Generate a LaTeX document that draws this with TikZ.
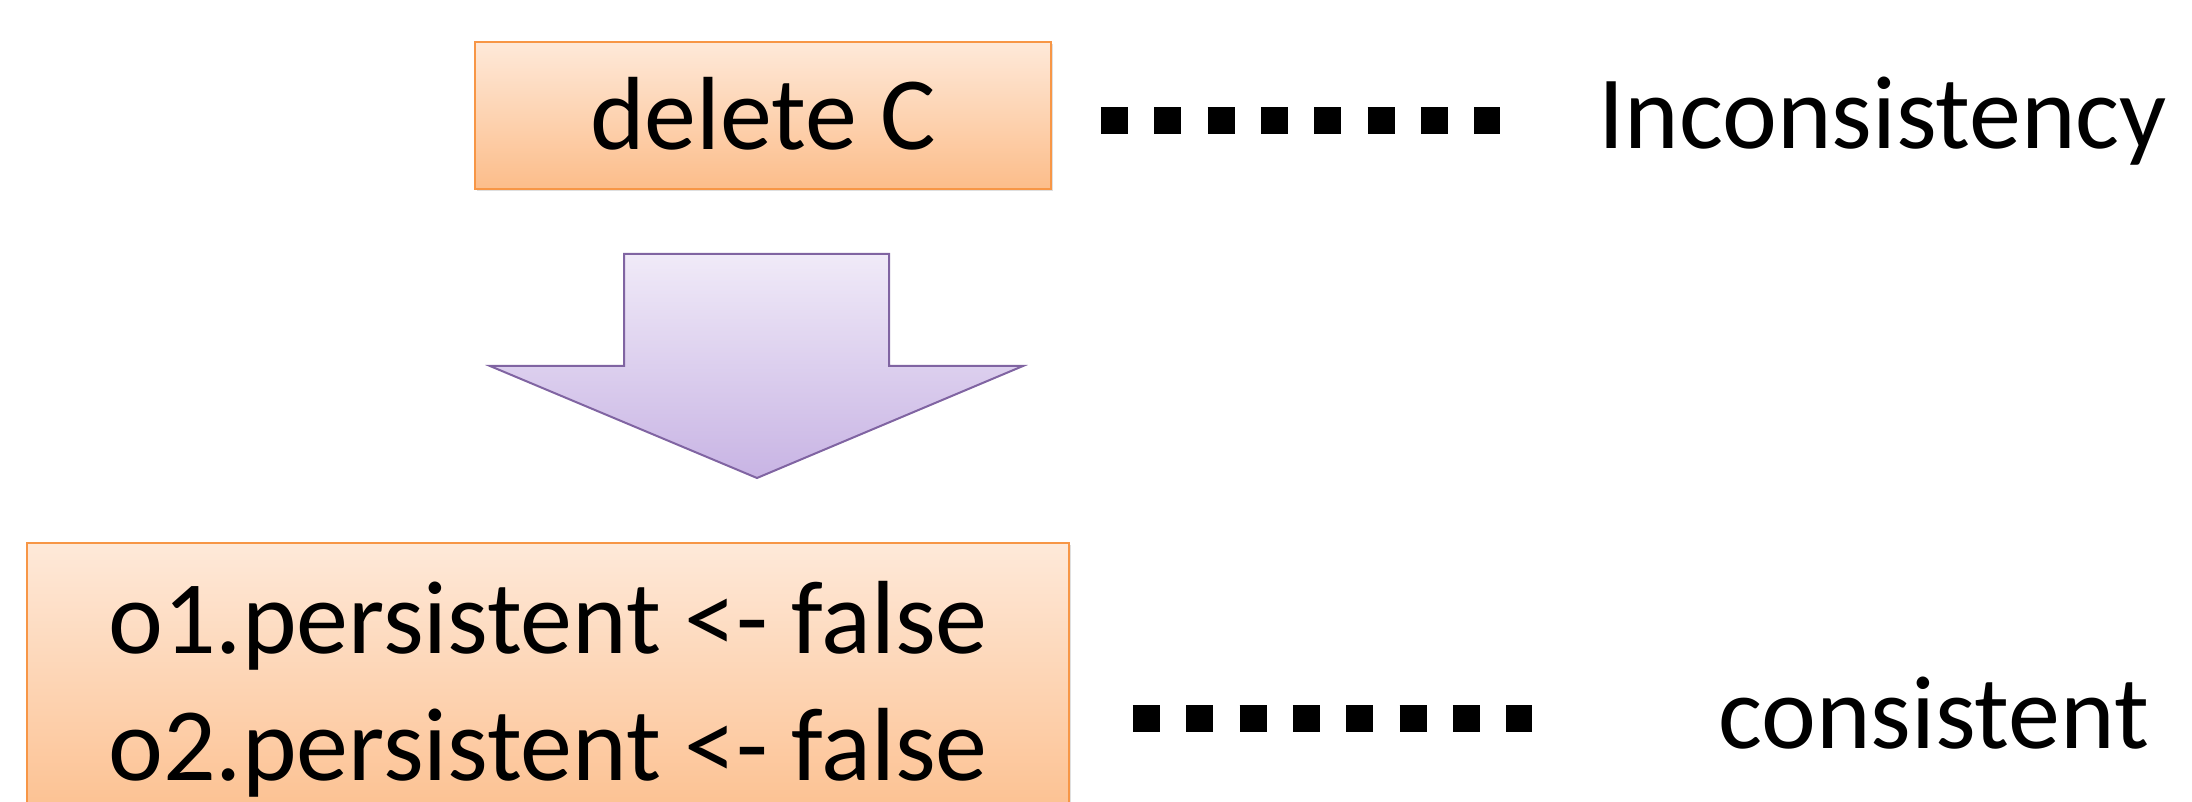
\documentclass[tikz,border=0pt]{standalone}
\usepackage{fontspec}
\setmainfont{Carlito}
\usetikzlibrary{shadows,calc}

\definecolor{boxline}{RGB}{247,150,70}
\definecolor{boxtop}{RGB}{254,233,217}
\definecolor{boxbot}{RGB}{252,189,138}
\definecolor{arrline}{RGB}{128,100,162}
\definecolor{arrtop}{RGB}{240,234,248}
\definecolor{arrbot}{RGB}{200,180,228}

\tikzset{
  stepbox/.style={draw=boxline, line width=0.9pt, top color=boxtop, bottom color=boxbot,
    inner sep=0pt, drop shadow={shadow xshift=0.8pt, shadow yshift=-1.2pt, opacity=0.25}},
  bigtext/.style={font=\fontsize{52pt}{63.5pt}\selectfont, inner sep=0pt},
  dotrow/.style={line width=13.5pt, dash pattern=on 13.5pt off 13.17pt},
  blockarrow/.style={draw=arrline, line width=1pt, line join=miter, top color=arrtop, bottom color=arrbot},
}

\begin{document}
\begin{tikzpicture}[x=0.5pt, y=-0.5pt]
  \useasboundingbox (0,0) rectangle (2192,802);
  \clip (0,0) rectangle (2192,802);

  % operation before the fix
  \node[stepbox, bigtext, minimum width=288pt, minimum height=73.5pt,
        text height=34.5pt, text depth=0pt] (del) at (763,115.5) {delete C};

  % operations after the fix
  \node[stepbox, minimum width=521pt, minimum height=148.5pt] (assign) at (548,691.5) {};
  \node[bigtext, anchor=base] (line1) at (548,653) {o1.persistent <- false};
  \node[bigtext, anchor=base] (line2) at (548,780) {o2.persistent <- false};

  % state labels
  \node[bigtext, anchor=base west] (inc) at (1598,149) {Inconsistency};
  \node[bigtext, anchor=base west] (cons) at (1718,748) {consistent};

  % dotted leaders
  \draw[dotrow, shorten <=24.5pt, shorten >=49pt]
    ([yshift=-2.5pt]del.east) -- ([yshift=-2.5pt]del.east -| inc.west);
  \draw[dotrow, shorten <=31.5pt, shorten >=93pt]
    ([yshift=-13.5pt]assign.east) -- ([yshift=-13.5pt]assign.east -| cons.west);

  % block arrow between the two boxes
  \draw[blockarrow] (624,254) -- (889,254) -- (889,366) -- (1023,366)
    -- (757,478) -- (490,366) -- (624,366) -- cycle;
\end{tikzpicture}
\end{document}
